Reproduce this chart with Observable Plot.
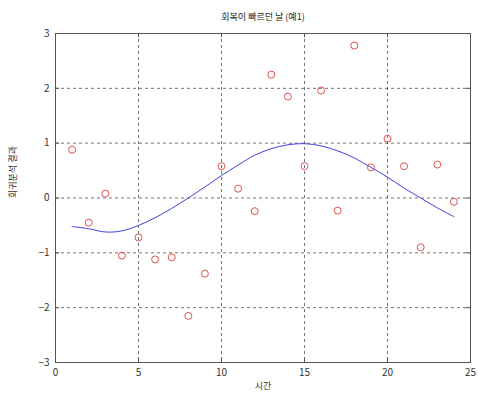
<!DOCTYPE html>
<html><head><meta charset="utf-8">
<script src="https://cdn.jsdelivr.net/npm/d3@7"></script>
<script src="https://cdn.jsdelivr.net/npm/@observablehq/plot@0.6"></script>
<style>
body{margin:0;background:#fff;}
svg{font-family:"Noto Sans CJK KR","DejaVu Sans",sans-serif;}
</style></head>
<body><div id="chart"></div>
<script>
const titleText = "회복이 빠르던 날 (예1)";
const xLabel = "시간";
const yLabel = "회귀분석 결과";
const hours = [1,2,3,4,5,6,7,8,9,10,11,12,13,14,15,16,17,18,19,20,21,22,23,24];
const observed = [0.88,-0.45,0.08,-1.05,-0.72,-1.12,-1.08,-2.15,-1.38,0.58,0.17,-0.24,2.25,1.85,0.58,1.96,-0.23,2.78,0.56,1.08,0.58,-0.9,0.61,-0.07];
const fitted = [-0.52,-0.56,-0.62,-0.6,-0.5,-0.36,-0.19,0.0,0.2,0.41,0.6,0.78,0.9,0.97,0.99,0.95,0.86,0.73,0.56,0.38,0.18,0.0,-0.18,-0.34];
const xTicks = [0,5,10,15,20,25];
const yTicks = [-3,-2,-1,0,1,2,3];

const pts = hours.map((h,i)=>({x:h,y:observed[i]}));
const fit = hours.map((h,i)=>({x:h,y:fitted[i]}));

const chart = Plot.plot({
  width: 478, height: 394,
  marginLeft: 55, marginRight: 8, marginTop: 33, marginBottom: 32,
  style: {fontSize: "10px", color: "#333", background: "#fff"},
  x: {domain: [0,25], ticks: xTicks, label: null},
  y: {domain: [-3,3], ticks: yTicks, label: null},
  marks: [
    Plot.gridX(xTicks, {stroke: "#000", strokeOpacity: 0.55, strokeDasharray: "3,3"}),
    Plot.gridY(yTicks, {stroke: "#000", strokeOpacity: 0.55, strokeDasharray: "3,3"}),
    Plot.frame({stroke: "#555"}),
    Plot.ruleX(xTicks, {x: d => d, y1: -3, y2: -2.92, stroke: "#555"}),
    Plot.ruleX(xTicks, {x: d => d, y1: 3, y2: 2.92, stroke: "#555"}),
    Plot.ruleY(yTicks, {y: d => d, x1: 0, x2: 0.25, stroke: "#555"}),
    Plot.ruleY(yTicks, {y: d => d, x1: 25, x2: 24.75, stroke: "#555"}),
    Plot.axisX(xTicks, {tickSize: 0, tickPadding: 6, fontSize: 10, tickFormat: d3.format("d")}),
    Plot.axisY(yTicks, {tickSize: 0, tickPadding: 6, fontSize: 10, tickFormat: d3.format("d")}),
    Plot.line(fit, {x: "x", y: "y", stroke: "#4040e0", strokeWidth: 1, curve: "catmull-rom"}),
    Plot.dot(pts, {x: "x", y: "y", r: 3.5, stroke: "#e05050", strokeWidth: 1, fill: "none"}),
    Plot.text([titleText], {frameAnchor: "top", dy: -20, fontSize: 9, fill: "#222"}),
    Plot.text([xLabel], {frameAnchor: "bottom", dy: 26, fontSize: 9, fill: "#333"}),
    Plot.text([yLabel], {frameAnchor: "left", dx: -42, rotate: -90, fontSize: 9, fill: "#333"})
  ]
});
document.getElementById("chart").appendChild(chart);
</script></body></html>
